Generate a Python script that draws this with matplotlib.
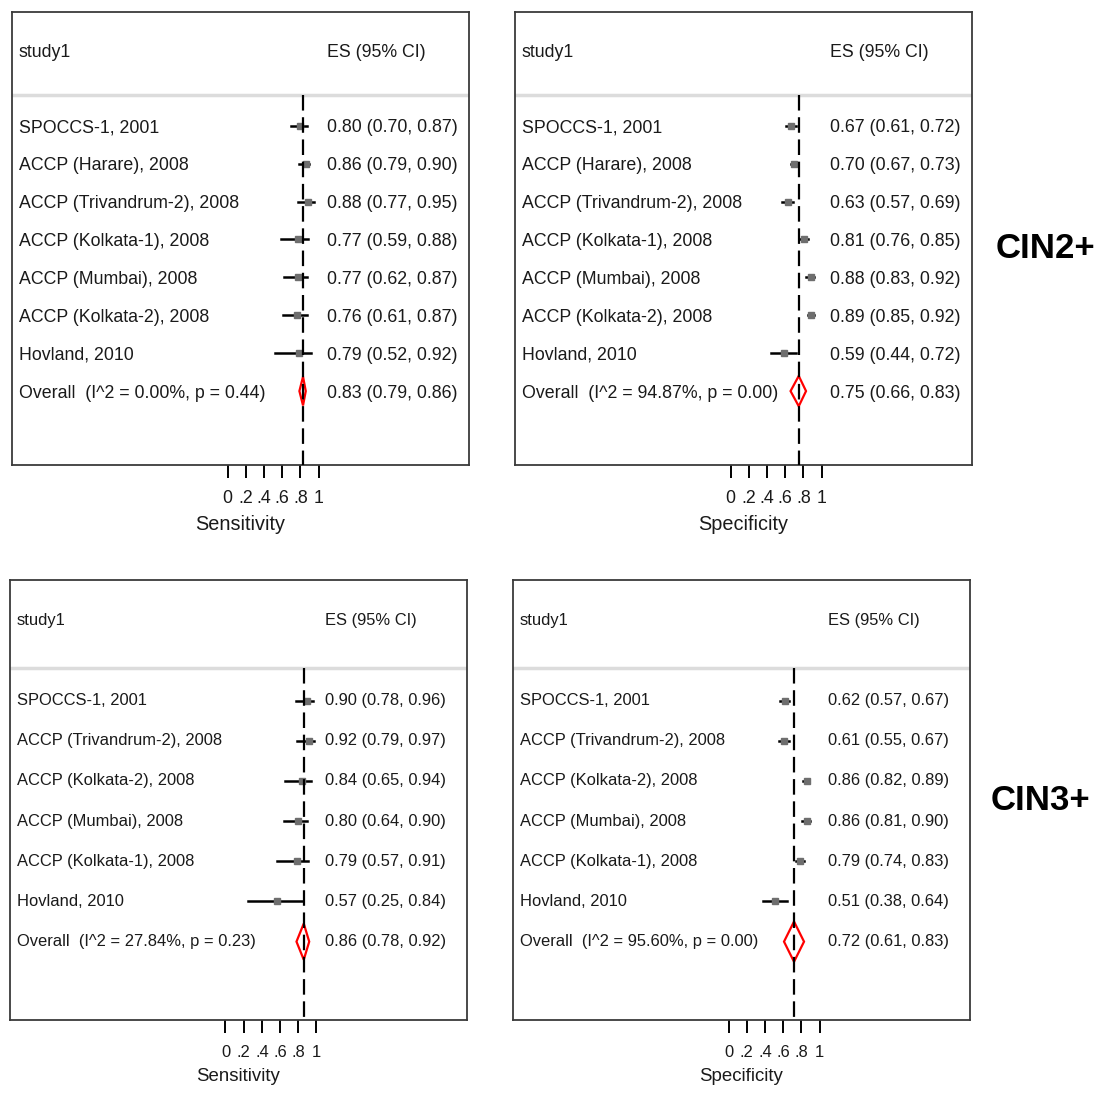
import matplotlib
matplotlib.use("Agg")
import matplotlib.pyplot as plt
from matplotlib.patches import Polygon
import matplotlib.transforms as mtrans

plt.rcParams['font.family'] = ['Liberation Sans Narrow', 'DejaVu Sans Condensed',
                               'Liberation Sans', 'DejaVu Sans']

# ---- data -------------------------------------------------------------
studies_cin2 = ["SPOCCS-1, 2001", "ACCP (Harare), 2008", "ACCP (Trivandrum-2), 2008",
                "ACCP (Kolkata-1), 2008", "ACCP (Mumbai), 2008", "ACCP (Kolkata-2), 2008",
                "Hovland, 2010"]
sens2_es = [0.80, 0.86, 0.88, 0.77, 0.77, 0.76, 0.79]
sens2_lo = [0.70, 0.79, 0.77, 0.59, 0.62, 0.61, 0.52]
sens2_hi = [0.87, 0.90, 0.95, 0.88, 0.87, 0.87, 0.92]
sens2_overall = (0.83, 0.79, 0.86)
sens2_het = "I^2 = 0.00%, p = 0.44"

spec2_es = [0.67, 0.70, 0.63, 0.81, 0.88, 0.89, 0.59]
spec2_lo = [0.61, 0.67, 0.57, 0.76, 0.83, 0.85, 0.44]
spec2_hi = [0.72, 0.73, 0.69, 0.85, 0.92, 0.92, 0.72]
spec2_overall = (0.75, 0.66, 0.83)
spec2_het = "I^2 = 94.87%, p = 0.00"

studies_cin3 = ["SPOCCS-1, 2001", "ACCP (Trivandrum-2), 2008", "ACCP (Kolkata-2), 2008",
                "ACCP (Mumbai), 2008", "ACCP (Kolkata-1), 2008", "Hovland, 2010"]
sens3_es = [0.90, 0.92, 0.84, 0.80, 0.79, 0.57]
sens3_lo = [0.78, 0.79, 0.65, 0.64, 0.57, 0.25]
sens3_hi = [0.96, 0.97, 0.94, 0.90, 0.91, 0.84]
sens3_overall = (0.86, 0.78, 0.92)
sens3_het = "I^2 = 27.84%, p = 0.23"

spec3_es = [0.62, 0.61, 0.86, 0.86, 0.79, 0.51]
spec3_lo = [0.57, 0.55, 0.82, 0.81, 0.74, 0.38]
spec3_hi = [0.67, 0.67, 0.89, 0.90, 0.83, 0.64]
spec3_overall = (0.72, 0.61, 0.83)
spec3_het = "I^2 = 95.60%, p = 0.00"

ticks = [0, 0.2, 0.4, 0.6, 0.8, 1]
tick_labels = ["0", ".2", ".4", ".6", ".8", "1"]

W, H = 1097, 1094
TXT = "#1a1a1a"
fig = plt.figure(figsize=(W / 100, H / 100), dpi=100)


def forest(box, studies, es, lo, hi, overall, het, xlabel, fs, diam_h, dy):
    # box = (left, top, right, bottom) in pixels
    l, t, r, b = box
    ax = fig.add_axes([l / W, 1 - b / H, (r - l) / W, (b - t) / H])
    px = 91.0                      # pixels per unit of ES
    x0 = 215.5                     # pixel offset of 0 from box left
    ax.set_xlim(-x0 / px, (r - l - x0) / px)
    n = len(studies)
    ax.set_ylim(n + 1.95, -3.0)

    tr = mtrans.blended_transform_factory(ax.transAxes, ax.transData)
    ax.text(0.015, -2.0 + dy, "study1", transform=tr, ha="left", va="center",
            fontsize=fs, color=TXT)
    ax.text(0.69, -2.0 + dy, "ES (95% CI)", transform=tr, ha="left", va="center",
            fontsize=fs, color=TXT)
    ax.axhline(-0.8, color="#dcdcdc", lw=2.5, zorder=1)

    for i, (s, e, a, c) in enumerate(zip(studies, es, lo, hi)):
        ax.plot([a, c], [i, i], color="black", lw=1.8, zorder=3)
        ax.plot([e], [i], marker="s", ms=5, color="#6e6e6e", mec="#6e6e6e", zorder=4)
        ax.text(0.015, i + dy, s, transform=tr, ha="left", va="center", fontsize=fs, color=TXT)
        ax.text(0.69, i + dy, f"{e:.2f} ({a:.2f}, {c:.2f})", transform=tr, ha="left",
                va="center", fontsize=fs, color=TXT)

    oe, ol, oh = overall
    ax.add_patch(Polygon([(ol, n), (oe, n - diam_h), (oh, n), (oe, n + diam_h)],
                         closed=True, facecolor="white", edgecolor="red", lw=1.6, zorder=4))
    ax.plot([oe, oe], [-0.8, n + 1.95], color="black", lw=1.6, dashes=(7, 3), zorder=5)
    ax.text(0.015, n + dy, f"Overall  ({het})", transform=tr, ha="left", va="center",
            fontsize=fs, color=TXT)
    ax.text(0.69, n + dy, f"{oe:.2f} ({ol:.2f}, {oh:.2f})", transform=tr, ha="left",
            va="center", fontsize=fs, color=TXT)

    for sp in ax.spines.values():
        sp.set_color("#3a3a3a")
        sp.set_linewidth(1.3)
    ax.set_yticks([])
    ax.set_xticks(ticks)
    ax.set_xticklabels(tick_labels, fontsize=fs, color=TXT)
    ax.tick_params(axis="x", length=9, width=1.4, pad=9, color="black")
    ax.set_xlabel(xlabel, fontsize=fs + 1.5, color=TXT, labelpad=6)
    return ax


forest((12, 12, 469, 465), studies_cin2, sens2_es, sens2_lo, sens2_hi,
       sens2_overall, sens2_het, "Sensitivity", 12.8, 0.38, 0.06)
forest((515, 12, 972, 465), studies_cin2, spec2_es, spec2_lo, spec2_hi,
       spec2_overall, spec2_het, "Specificity", 12.8, 0.4, 0.06)
forest((10, 580, 467, 1020), studies_cin3, sens3_es, sens3_lo, sens3_hi,
       sens3_overall, sens3_het, "Sensitivity", 11.9, 0.45, 0.0)
forest((513, 580, 970, 1020), studies_cin3, spec3_es, spec3_lo, spec3_hi,
       spec3_overall, spec3_het, "Specificity", 11.9, 0.5, 0.0)

fig.text(1045 / W, 1 - 248 / H, "CIN2+", ha="center", va="center",
         fontsize=25, fontweight="bold", color="black")
fig.text(1040 / W, 1 - 800 / H, "CIN3+", ha="center", va="center",
         fontsize=25, fontweight="bold", color="black")

fig.savefig("out.png", dpi=100)
